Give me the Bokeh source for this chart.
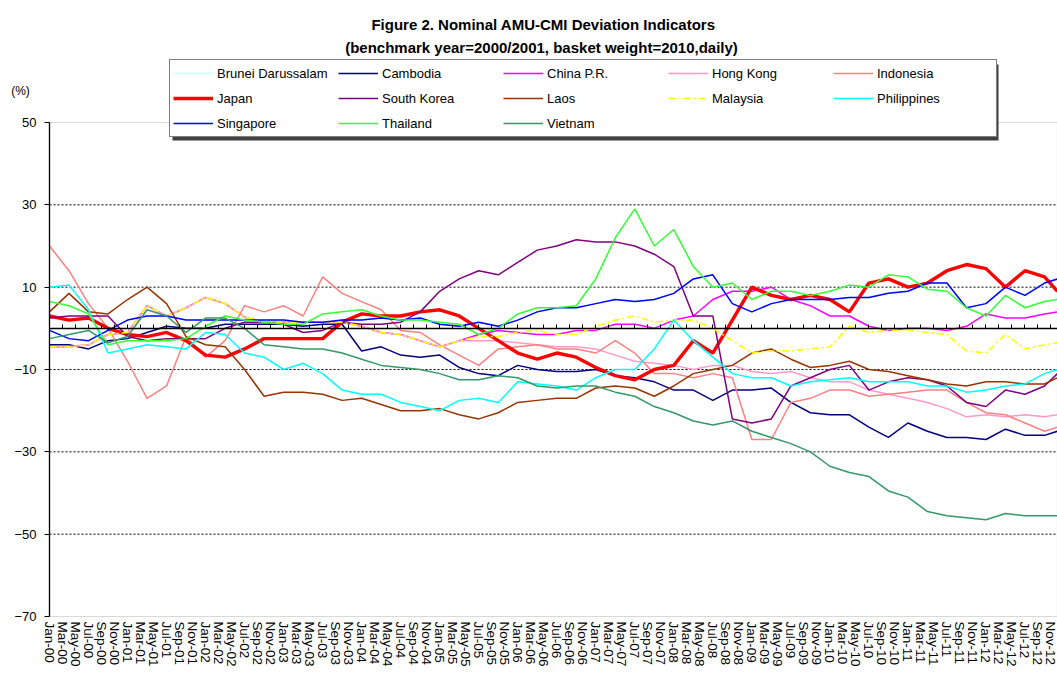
from bokeh.plotting import figure
from bokeh.models import (Range1d, FixedTicker, LinearAxis, Legend, LegendItem, Label,
                          BoxAnnotation)
from bokeh.embed import file_html
from bokeh.resources import INLINE

# x = months since Jan-2000 (quarterly readings)
MONTHS = [0, 3, 6, 9, 12, 15, 18, 21, 24, 27, 30, 33, 36, 39, 42, 45, 48, 51, 54, 57,
          60, 63, 66, 69, 72, 75, 78, 81, 84, 87, 90, 93, 96, 99, 102, 105, 108, 111,
          114, 117, 120, 123, 126, 129, 132, 135, 138, 141, 144, 147, 150, 153, 155]

SINGAPORE = [-0.5, -2.5, -3, -0.5,
             2, 3, 3, 2,
             2, 2, 2, 2,
             2, 1.5, 1.5, 2,
             2, 2.5, 2, 2.5,
             1, 0.5, 1.5, 0.5,
             2, 4, 5, 5,
             6, 7, 6.5, 7,
             8.5, 12, 13, 6,
             4, 6, 7, 7,
             7, 7.5, 7.5, 8.5,
             9, 11, 11, 5,
             6, 10, 8, 11, 12]
BRUNEI = [-0.5, -2.5, -3, -0.5,
          2, 3, 3, 2,
          2, 2, 2, 2,
          2, 1.5, 1.5, 2,
          2, 2.5, 2, 2.5,
          1, 0.5, 1.5, 0.5,
          2, 4, 5, 5,
          6, 7, 6.5, 7,
          8.5, 12, 13, 6,
          4, 6, 7, 7,
          7, 7.5, 7.5, 8.5,
          9, 11, 11, 5,
          6, 10, 8, 11, 12]
CAMBODIA = [-4, -4, -5, -3,
            -2.5, -1, 0.5, 0,
            0, 1, 1, 1,
            1, 0.5, 1, 1,
            -5.5, -4.5, -6.5, -7,
            -6.5, -9.5, -11, -11.5,
            -9, -10, -10.5, -10.5,
            -10, -11.5, -12, -13,
            -15, -15, -17.5, -15,
            -15, -14.5, -18, -20.5,
            -21, -21, -24, -26.5,
            -23, -25, -26.5, -26.5,
            -27, -24.5, -26, -26, -25]
CHINA = [-4.5, -4.5, -4, -1.5,
         -1, 5.5, 3, 5,
         7.5, 6, 2.7, 1.5,
         1.5, 1.5, 1.5, 1.5,
         0.5, -1, -1.5, -3,
         -4.5, -3, -1.5, -0.5,
         -1, -1.5, -1.5, -0.5,
         -0.5, 1, 1, 0,
         2, 3, 7, 9,
         9, 10, 7, 5.5,
         3, 3, 0.5, -0.5,
         0, 0, -0.5, 0.5,
         3.5, 2.5, 2.5, 3.5, 4]
HONG_KONG = [-4.5, -4.5, -4, -1.5,
             -1, 5.5, 3, 5,
             7.5, 6, 2.7, 1.5,
             1.5, 1.5, 1.5, 1.5,
             0.5, -1, -1.5, -3,
             -4.5, -3, -3, -3,
             -3.5, -4, -4.5, -4.5,
             -5, -6.5, -8, -8.5,
             -9, -10, -9, -9,
             -10.5, -11, -10.5, -12,
             -13, -13, -15, -16,
             -17, -18, -19.5, -21.5,
             -21, -21.5, -21, -21.5, -21]
INDONESIA = [20, 14, 6, 0,
             -8, -17, -14, -2,
             -7, -3, 5.5, 4,
             5.5, 3, 12.5, 8.5,
             6.5, 4.5, -0.5, -1,
             -4, -6.5, -9, -5,
             -4.5, -4, -5, -5,
             -6, -3, -6, -11,
             -11, -12, -11, -12,
             -27, -27, -18, -17,
             -15, -15, -16.5, -16,
             -15.5, -15, -15, -18,
             -20.5, -21, -23, -25, -24]
JAPAN = [3, 2, 2.5, 0,
         -1.5, -2, -1, -3,
         -6.5, -7, -5, -2.5,
         -2.5, -2.5, -2.5, 1.5,
         3.5, 3, 3, 4,
         4.5, 3, 0, -3,
         -6, -7.5, -6, -7,
         -9.5, -11.5, -12.5, -10,
         -9, -3, -6, 2,
         10, 8, 7, 8,
         7, 4, 11, 12,
         10, 11, 14, 15.5,
         14.5, 10, 14, 12.5, 9]
SOUTH_KOREA = [2.5, 3, 3, 3,
               -2, -3, -2.5, -2.5,
               -2.5, 0, 1.5, 1.5,
               1, -1, -0.5, 1.5,
               1, 1, 1.5, 4,
               9, 12, 14, 13,
               16, 19, 20, 21.5,
               21, 21, 20, 18,
               15, 3, 3, -22,
               -23, -22, -14, -12,
               -10, -9, -15, -13,
               -12, -12.5, -14, -18,
               -19, -15, -16, -14, -11]
LAOS = [4, 8.5, 4, 3.5,
        7, 10, 6, -2,
        -4, -4.5, -10, -16.5,
        -15.5, -15.5, -16, -17.5,
        -17, -18.5, -20, -20,
        -19.5, -21, -22, -20.5,
        -18, -17.5, -17, -17,
        -14.5, -14, -14.5, -16.5,
        -14, -11, -10, -9,
        -6, -5, -7.5, -9.5,
        -9, -8, -10, -10.5,
        -11.5, -12.5, -13.5, -14,
        -13, -13, -13.5, -13.5, -12]
MALAYSIA = [-4.5, -4.5, -4, -1.5,
            -1, 5.5, 3, 5,
            7.5, 6, 2.7, 1.5,
            1.5, 1.5, 1.5, 1.5,
            0.5, -1, -1.5, -3,
            -4.5, -3, -2, -2,
            -1, -0.5, -1.5, -1.5,
            0.5, 2, 3, 1.5,
            2, 2, 0, -3,
            -6, -5.5, -5.5, -5,
            -4.5, 0.5, -1, -0.5,
            -0.5, -1, -1.5, -5.5,
            -6, -1.5, -5, -4, -3.5]
PHILIPPINES = [10, 10.5, 4.5, -6,
               -5, -4, -4.5, -5,
               -1, -1.5, -6, -7,
               -10, -8.5, -11, -15,
               -16, -16, -18, -19,
               -20, -17.5, -17, -18,
               -13, -13.5, -14, -15,
               -12, -10, -10, -5,
               2, -3, -7, -11,
               -12, -12, -14, -13,
               -12.5, -12, -13, -13,
               -13, -14, -14, -15.5,
               -15, -14, -13.5, -11, -10]
THAILAND = [6.5, 5.5, 3.5, -4,
            -3, -3, -3, -2.5,
            0.5, 3, 2, 1.5,
            1, 1, 3.5, 4,
            4.5, 3, 2, 2,
            1.5, 1, -1.5, 0,
            3.5, 5, 5, 5.5,
            12, 22, 29, 20,
            24, 15, 10, 11,
            7, 9, 9, 8,
            9, 10.5, 10, 13,
            12.5, 9.5, 9, 5,
            3, 8, 5, 6.5, 7]
VIETNAM = [-2.5, -1.5, -0.5, -3.5,
           -2, 4.5, 3, -1,
           2.5, 2.5, 0, -4,
           -4.5, -5, -5, -6,
           -7.5, -9, -9.5, -10,
           -11, -12.5, -12.5, -11.5,
           -12, -14, -14.5, -14,
           -14, -15.5, -16.5, -19,
           -20.5, -22.5, -23.5, -22.5,
           -25, -26.5, -28, -30,
           -33.5, -35, -36, -39.5,
           -41, -44.5, -45.5, -46,
           -46.5, -45, -45.5, -45.5, -45.5]

NAMES = ["Brunei Darussalam", "Cambodia", "China P.R.", "Hong Kong", "Indonesia",
         "Japan", "South Korea", "Laos", "Malaysia", "Philippines",
         "Singapore", "Thailand", "Vietnam"]
VALUES = [BRUNEI, CAMBODIA, CHINA, HONG_KONG, INDONESIA, JAPAN, SOUTH_KOREA, LAOS,
          MALAYSIA, PHILIPPINES, SINGAPORE, THAILAND, VIETNAM]
COLORS = ["#CCFFFF", "#000080", "#FF00FF", "#FF99CC", "#FF8080", "#FF0000", "#800080",
          "#993300", "#FFFF00", "#00FFFF", "#0000FF", "#33FF33", "#339966"]
WIDTHS = [1.5, 1.5, 1.5, 1.5, 1.5, 3.4, 1.5, 1.5, 1.6, 1.5, 1.5, 1.5, 1.5]
DASHES = ["solid"] * 8 + ["7 3 2 3"] + ["solid"] * 4

MON = ["Jan", "Mar", "May", "Jul", "Sep", "Nov"]
YEARS = ["00", "01", "02", "03", "04", "05", "06", "07", "08", "09", "10", "11", "12"]
TICK_LABELS = [m + "-" + y for y in YEARS for m in MON]
TICK_POS = [2 * i for i in range(len(TICK_LABELS))]
Y_TICKS = [50, 30, 10, -10, -30, -50, -70]
GRID_TICKS = [30, 10, -10, -30, -50]
Y_MIN, Y_MAX = -70, 50
X_END = 155

TITLE1 = "Figure 2. Nominal AMU-CMI Deviation Indicators"
TITLE2 = "(benchmark year=2000/2001, basket weight=2010,daily)"

FONT = "Liberation Sans"

# layout (page pixels): the canvas covers the page 0..1057 x 0..673,
# the plot area spans x 49..1057, y 122..616
W, H = 1057, 673
AREA_L, AREA_T, AREA_R, AREA_B = 49, 122, 1057, 616
px_per_month = (AREA_R - AREA_L) / X_END
px_per_unit = (AREA_B - AREA_T) / (Y_MAX - Y_MIN)
x_start = -AREA_L / px_per_month
y_top = Y_MAX + AREA_T / px_per_unit
y_bot = Y_MIN - (H - AREA_B) / px_per_unit


def sx(px):  # page pixel x -> data x
    return (px - AREA_L) / px_per_month


def sy(py):  # page pixel y -> data y
    return Y_MAX - (py - AREA_T) / px_per_unit


p = figure(width=W, height=H, output_backend="svg", toolbar_location=None,
           x_range=Range1d(x_start, X_END), y_range=Range1d(y_bot, y_top),
           min_border_left=0, min_border_right=0, min_border_top=0,
           min_border_bottom=0, background_fill_color="white")
p.outline_line_color = None
p.xgrid.visible = False
p.ygrid.visible = False

# plot-area border
p.add_layout(BoxAnnotation(left=0, right=X_END, bottom=Y_MIN, top=Y_MAX,
                           fill_alpha=0, line_color="#808080", line_width=1.2,
                           level="underlay"))

# dashed gridlines inside the plot area
p.segment(x0=[0] * len(GRID_TICKS), x1=[X_END] * len(GRID_TICKS),
          y0=GRID_TICKS, y1=GRID_TICKS, line_color="black", line_dash="2 2",
          line_width=1)

xa = p.xaxis[0]
xa.fixed_location = Y_MIN
xa.bounds = (0, X_END)
xa.ticker = FixedTicker(ticks=TICK_POS)
xa.major_label_overrides = {pos: lab for pos, lab in zip(TICK_POS, TICK_LABELS)}
xa.major_label_orientation = "vertical"
xa.major_tick_line_color = None
xa.major_tick_out = 0
xa.major_tick_in = 0
xa.minor_tick_line_color = None
xa.axis_line_color = None
xa.major_label_standoff = 5
xa.major_label_text_font = FONT
xa.major_label_text_font_size = "13.5px"
xa.major_label_text_color = "black"

ya = p.yaxis[0]
ya.fixed_location = 0
ya.bounds = (Y_MIN, Y_MAX)
ya.ticker = FixedTicker(ticks=Y_TICKS)
ya.major_label_overrides = {t: (str(t) if t >= 0 else "\u2212" + str(-t)) for t in Y_TICKS}
ya.major_tick_out = 5
ya.major_tick_in = 0
ya.minor_tick_line_color = None
ya.axis_line_color = "black"
ya.axis_line_width = 1.3
ya.major_tick_line_color = "black"
ya.major_label_standoff = 8
ya.major_label_text_font = FONT
ya.major_label_text_font_size = "13px"
ya.major_label_text_color = "black"

zero_axis = LinearAxis(fixed_location=0, bounds=(0, X_END), ticker=FixedTicker(ticks=TICK_POS),
                       major_label_text_font_size="0px", major_label_text_alpha=0,
                       major_tick_out=4, major_tick_in=0, minor_tick_line_color=None,
                       axis_line_color="black", axis_line_width=1.5,
                       major_tick_line_color="black", major_label_standoff=0)
p.add_layout(zero_axis, "above")

items = []
for name, vals, col, w, d in zip(NAMES, VALUES, COLORS, WIDTHS, DASHES):
    r = p.line(MONTHS, vals, line_color=col, line_width=w, line_dash=d)
    items.append(LegendItem(label=name, renderers=[r]))

# legend shadow, then legend (box from page x 169..995, y 61..137)
p.add_layout(BoxAnnotation(left=sx(172), right=sx(998), bottom=sy(140), top=sy(64),
                           fill_color="#404040", fill_alpha=1, line_alpha=0))
legend = Legend(items=items, location=(169, H - 137),
                orientation="horizontal", ncols=5,
                glyph_width=40, glyph_height=20, label_height=20, label_width=116,
                label_standoff=4, spacing=5, padding=3, margin=0,
                label_text_font=FONT, label_text_font_size="13px",
                label_text_color="black", border_line_color="black",
                border_line_width=1.2, background_fill_color="white",
                background_fill_alpha=1)
p.add_layout(legend, "center")

p.add_layout(Label(x=sx(543), y=sy(24), text=TITLE1, text_align="center",
                   text_baseline="middle", text_font=FONT, text_font_style="bold",
                   text_font_size="15px", text_color="black"))
p.add_layout(Label(x=sx(541), y=sy(47), text=TITLE2, text_align="center",
                   text_baseline="middle", text_font=FONT, text_font_style="bold",
                   text_font_size="15px", text_color="black"))
p.add_layout(Label(x=sx(20), y=sy(90), text="(%)", text_align="center",
                   text_baseline="middle", text_font=FONT, text_font_size="12px",
                   text_color="black"))

open("out.html", "w").write(file_html(p, INLINE))
